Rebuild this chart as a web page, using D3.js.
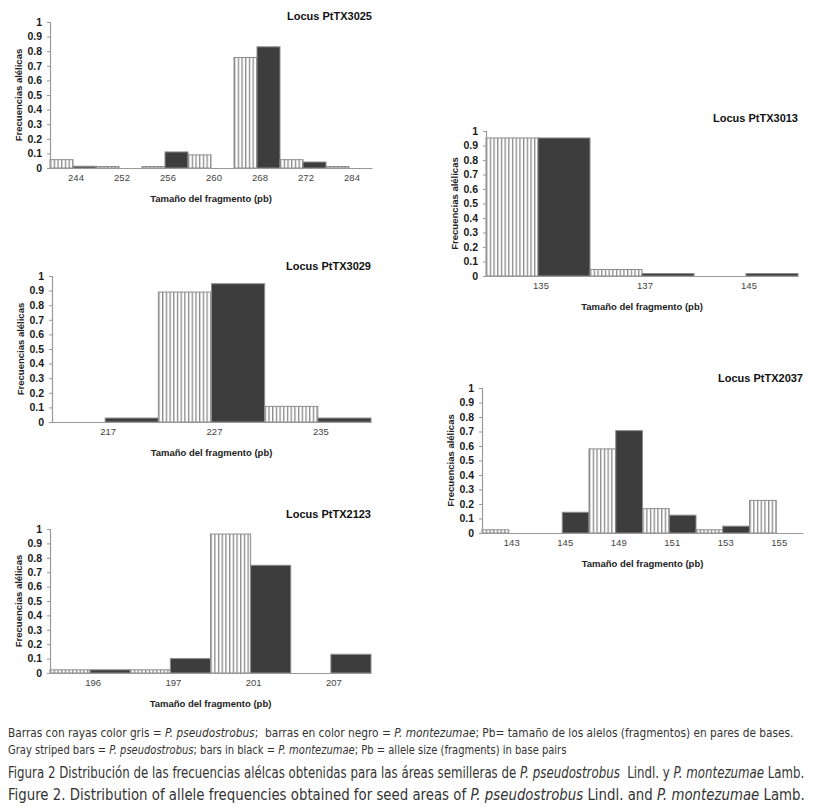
<!DOCTYPE html>
<html>
<head>
<meta charset="utf-8">
<script src="https://cdn.jsdelivr.net/npm/d3@7"></script>
<style>
  body { margin: 0; background: #fff; }
  svg { display: block; }
</style>
</head>
<body>
<svg id="chart" width="819" height="809"></svg>
<script>
// valores: gris rayado = P. pseudostrobus, negro = P. montezumae
const alelos3025 = ["244", "252", "256", "260", "268", "272", "284"];
const pseudo3025 = [0.057, 0.01, 0.01, 0.09, 0.757, 0.057, 0.01];
const monte3025  = [0.012, 0, 0.11, 0, 0.83, 0.041, 0];

const alelos3013 = ["135", "137", "145"];
const pseudo3013 = [0.952, 0.045, 0];
const monte3013  = [0.952, 0.017, 0.017];

const alelos3029 = ["217", "227", "235"];
const pseudo3029 = [0, 0.89, 0.107];
const monte3029  = [0.027, 0.947, 0.027];

const alelos2037 = ["143", "145", "149", "151", "153", "155"];
const pseudo2037 = [0.022, 0, 0.58, 0.168, 0.022, 0.225];
const monte2037  = [0, 0.143, 0.706, 0.123, 0.047, 0];

const alelos2123 = ["196", "197", "201", "207"];
const pseudo2123 = [0.022, 0.022, 0.965, 0];
const monte2123  = [0.022, 0.1, 0.748, 0.13];

const yTicks = [0, 0.1, 0.2, 0.3, 0.4, 0.5, 0.6, 0.7, 0.8, 0.9, 1];
const series = ["pseudo", "monte"];

const svg = d3.select("#chart");

// patron de rayas verticales para las barras grises
const defs = svg.append("defs");
const pat = defs.append("pattern")
    .attr("id", "rayas")
    .attr("patternUnits", "userSpaceOnUse")
    .attr("width", 3.7)
    .attr("height", 10);
pat.append("rect").attr("width", 3.7).attr("height", 10).attr("fill", "#fff");
pat.append("rect").attr("x", 0).attr("width", 1.3).attr("height", 10).attr("fill", "#8a8a8a");

function panel(cfg) {
    const g = svg.append("g");

    const x = d3.scaleBand()
        .domain(cfg.alelos)
        .range([cfg.left, cfg.right])
        .padding(0);

    const xs = d3.scaleBand()
        .domain(series)
        .range([0, x.bandwidth()])
        .padding(0);

    const y = d3.scaleLinear()
        .domain([0, 1])
        .range([cfg.bottom, cfg.top]);

    const rows = cfg.alelos.map((a, i) => ({ alelo: a, pseudo: cfg.pseudo[i], monte: cfg.monte[i] }));

    // barras
    const grp = g.append("g")
      .selectAll("g")
      .data(rows)
      .enter().append("g")
        .attr("transform", d => "translate(" + x(d.alelo) + ",0)");

    grp.selectAll("rect")
      .data(d => series.map(k => ({ key: k, value: d[k] })))
      .enter().append("rect")
        .attr("x", d => xs(d.key))
        .attr("y", d => y(d.value))
        .attr("width", xs.bandwidth())
        .attr("height", d => y(0) - y(d.value))
        .attr("fill", d => d.key === "pseudo" ? "url(#rayas)" : "#3d3d3d")
        .attr("stroke", d => d.value > 0 ? "#8c8c8c" : "none")
        .attr("stroke-width", 1);

    // eje y
    const yAxis = g.append("g")
        .attr("transform", "translate(" + cfg.left + ",0)")
        .call(d3.axisLeft(y).tickValues(yTicks).tickSize(3).tickPadding(5).tickFormat(d3.format("")));
    yAxis.select(".domain").attr("stroke", "#999").attr("stroke-width", 1.2);
    yAxis.selectAll(".tick line").attr("stroke", "#999");
    yAxis.selectAll(".tick text")
        .attr("font-family", "'Liberation Sans', Arial, sans-serif")
        .attr("font-weight", "bold")
        .attr("font-size", "10.5px")
        .attr("fill", "#1a1a1a");

    // eje x
    const xAxis = g.append("g")
        .attr("transform", "translate(0," + cfg.bottom + ")")
        .call(d3.axisBottom(x).tickSize(0).tickPadding(6).tickSizeOuter(0));
    xAxis.select(".domain").attr("stroke", "#999").attr("stroke-width", 1.2);
    xAxis.selectAll(".tick text")
        .attr("dx", "3px")
        .attr("font-family", "'Liberation Sans', Arial, sans-serif")
        .attr("font-size", "9.5px")
        .attr("fill", "#444");

    g.append("text")
        .attr("x", cfg.right)
        .attr("y", cfg.titleY)
        .attr("text-anchor", "end")
        .attr("font-family", "'Liberation Sans', Arial, sans-serif")
        .attr("font-weight", "bold")
        .attr("font-size", "11px")
        .attr("fill", "#111")
        .text(cfg.titulo);

    g.append("text")
        .attr("transform", "translate(" + (cfg.left - 28) + "," + ((cfg.top + cfg.bottom) / 2) + ")rotate(-90)")
        .attr("text-anchor", "middle")
        .attr("font-family", "'Liberation Sans', Arial, sans-serif")
        .attr("font-weight", "bold")
        .attr("font-size", "9.5px")
        .attr("fill", "#222")
        .text("Frecuencias alélicas");

    g.append("text")
        .attr("x", (cfg.left + cfg.right) / 2)
        .attr("y", cfg.bottom + 34)
        .attr("text-anchor", "middle")
        .attr("font-family", "'Liberation Sans', Arial, sans-serif")
        .attr("font-weight", "bold")
        .attr("font-size", "9.5px")
        .attr("fill", "#222")
        .text("Tamaño del fragmento (pb)");
}

panel({ titulo: "Locus PtTX3025", alelos: alelos3025, pseudo: pseudo3025, monte: monte3025,
        left: 50, right: 372, top: 22, bottom: 168, titleY: 20 });
panel({ titulo: "Locus PtTX3013", alelos: alelos3013, pseudo: pseudo3013, monte: monte3013,
        left: 486, right: 798, top: 131, bottom: 276, titleY: 122 });
panel({ titulo: "Locus PtTX3029", alelos: alelos3029, pseudo: pseudo3029, monte: monte3029,
        left: 52, right: 371, top: 276, bottom: 422, titleY: 270 });
panel({ titulo: "Locus PtTX2037", alelos: alelos2037, pseudo: pseudo2037, monte: monte2037,
        left: 482, right: 803, top: 388, bottom: 533, titleY: 382 });
panel({ titulo: "Locus PtTX2123", alelos: alelos2123, pseudo: pseudo2123, monte: monte2123,
        left: 50, right: 371, top: 529, bottom: 673, titleY: 518 });

// pie de figura
const caption = [
    { y: 737, w: 787, size: 11.5, parts: [["Barras con rayas color gris = ", 0], ["P. pseudostrobus", 1], [";  barras en color negro = ", 0], ["P. montezumae", 1], ["; Pb= tamaño de los alelos (fragmentos) en pares de bases.", 0]] },
    { y: 754, w: 559, size: 11.5, parts: [["Gray striped bars = ", 0], ["P. pseudostrobus", 1], ["; bars in black = ", 0], ["P. montezumae", 1], ["; Pb = allele size (fragments) in base pairs", 0]] },
    { y: 778, w: 797, size: 15, parts: [["Figura 2 Distribución de las frecuencias alélcas obtenidas para las áreas semilleras de ", 0], ["P. pseudostrobus", 1], ["  Lindl. y ", 0], ["P. montezumae", 1], [" Lamb.", 0]] },
    { y: 800, w: 797, size: 15, parts: [["Figure 2. Distribution of allele frequencies obtained for seed areas of ", 0], ["P. pseudostrobus", 1], [" Lindl. and ", 0], ["P. montezumae", 1], [" Lamb.", 0]] }
];

caption.forEach(c => {
    const t = svg.append("text")
        .attr("x", 0)
        .attr("y", 0)
        .attr("font-family", "'Liberation Sans Narrow', 'DejaVu Sans Condensed', sans-serif")
        .attr("font-size", c.size + "px")
        .attr("fill", "#333")
        .style("white-space", "pre");
    c.parts.forEach(p => {
        t.append("tspan")
            .attr("font-style", p[1] ? "italic" : "normal")
            .text(p[0]);
    });
    const w = t.node().getComputedTextLength();
    t.attr("transform", "translate(8," + c.y + ")scale(" + (c.w / w) + ",1)");
});
</script>
</body>
</html>
